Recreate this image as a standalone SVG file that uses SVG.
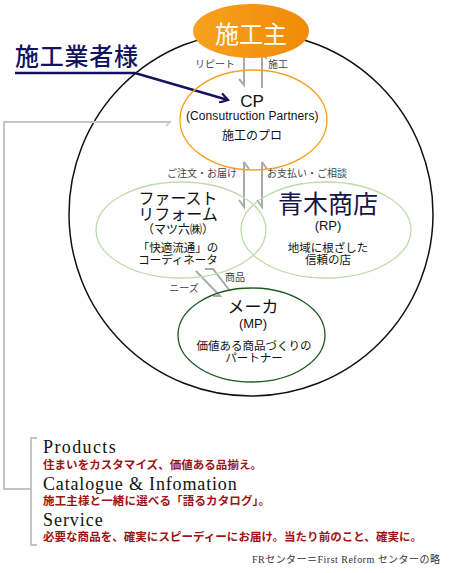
<svg xmlns="http://www.w3.org/2000/svg" width="458" height="573" viewBox="0 0 458 573">
<style>
.jp{font-family:"Noto Sans CJK JP","Liberation Sans",sans-serif;}
.lbl{font-family:"Noto Sans CJK JP","Liberation Sans",sans-serif;font-size:10px;fill:#444;}
.arr{stroke:#aaaaaa;stroke-width:2;fill:none;}
.en{font-family:"Liberation Serif","Noto Sans CJK JP",serif;font-size:18px;fill:#111;letter-spacing:1.3px;}
.red{font-family:"Liberation Serif","Noto Sans CJK JP",serif;font-size:11.5px;font-weight:bold;fill:#9c1414;}
.ls{font-family:"Liberation Sans",sans-serif;}
</style>
<defs>
<linearGradient id="og" x1="0" y1="0" x2="1" y2="0">
<stop offset="0" stop-color="#F7A21E"/><stop offset="1" stop-color="#F08A06"/>
</linearGradient>
<marker id="navyhead" markerWidth="10" markerHeight="10" refX="8" refY="5" orient="auto" markerUnits="userSpaceOnUse">
<path d="M0,0 L8,5 L0,10" fill="none" stroke="#14145e" stroke-width="2.2"/>
</marker>
</defs>
<rect width="458" height="573" fill="#fff"/>

<g id="outer-circle"><ellipse cx="251" cy="214" rx="182" ry="182" fill="none" stroke="#111" stroke-width="1.5"/></g>

<g id="connectors">
<path class="arr" d="M244,50 V85 L239,79"/>
<path class="arr" d="M262,88 V52 L267,59"/>
<path class="arr" d="M244,162 L249,169 M244,162 V207 L239,200"/>
<path class="arr" d="M262,162 L267,169 M262,162 V207 L257,200"/>
<path class="arr" d="M196,271 L220,296 L213,296"/>
<path class="arr" d="M205,269 L213,269 L230,291"/>
<path d="M15,73 H135 L228,100" fill="none" stroke="#14145e" stroke-width="2.5" marker-end="url(#navyhead)"/>
<path d="M170,122 H4 V489 H31" fill="none" stroke="#c4c4c4" stroke-width="2"/>
<path d="M166,126 L171,121" fill="none" stroke="#c4c4c4" stroke-width="1.5"/>
<path d="M37,438 H31 V545 H37" fill="none" stroke="#c4c4c4" stroke-width="2"/>
</g>

<g id="node-sekounushi">
<ellipse cx="251" cy="31" rx="58" ry="27" fill="url(#og)"/>
<text x="251" y="43" class="jp" font-size="24" fill="#fff" text-anchor="middle">施工主</text>
</g>
<text x="215" y="68" class="lbl" text-anchor="middle">リピート</text>
<text x="278" y="68" class="lbl" text-anchor="middle">施工</text>

<g id="node-gyousha">
<text x="15" y="65" class="jp" font-size="24" font-weight="500" fill="#14145e" textLength="123">施工業者様</text>
</g>

<g id="node-cp">
<ellipse cx="253.5" cy="120" rx="73.5" ry="50" fill="none" stroke="#F7A024" stroke-width="1.3"/>
<text text-anchor="middle" fill="#111"><tspan x="252" y="107" class="ls" font-size="17">CP</tspan><tspan x="252" y="120" class="ls" font-size="12" textLength="132" letter-spacing="-0.5">(Consutruction Partners)</tspan><tspan x="252" y="140" class="jp" font-size="12">施工のプロ</tspan></text>
</g>

<text x="202" y="177" class="lbl" text-anchor="middle">ご注文・お届け</text>
<text x="307" y="177" class="lbl" text-anchor="middle">お支払い・ご相談</text>

<g id="node-fr">
<ellipse cx="181" cy="230" rx="85" ry="48" fill="none" stroke="#bcdca8" stroke-width="1.3"/>
<text class="jp" fill="#111" text-anchor="middle"><tspan x="178" y="204" font-size="16">ファースト</tspan><tspan x="178" y="220" font-size="16">リフォーム</tspan><tspan x="178" y="234" font-size="12">（マツ六㈱）</tspan><tspan x="178" y="252" font-size="11.5">「快適流通」の</tspan><tspan x="178" y="264" font-size="11.5">コーディネータ</tspan></text>
</g>

<g id="node-rp">
<ellipse cx="326" cy="230" rx="85" ry="48" fill="none" stroke="#bcdca8" stroke-width="1.3"/>
<text x="328" y="213" class="jp" font-size="25" fill="#14144a" text-anchor="middle">青木商店</text>
<text x="328" y="230" class="ls" font-size="13" fill="#111" text-anchor="middle">(RP)</text>
<text class="jp" font-size="11.5" fill="#111" text-anchor="middle"><tspan x="328" y="252">地域に根ざした</tspan><tspan x="328" y="264">信頼の店</tspan></text>
</g>

<text x="235" y="281" class="lbl" text-anchor="middle">商品</text>
<text x="184" y="292" class="lbl" text-anchor="middle">ニーズ</text>

<g id="node-maker">
<ellipse cx="251.5" cy="335" rx="73.5" ry="47" fill="none" stroke="#1d5a1d" stroke-width="1.3"/>
<text x="253" y="313" class="jp" font-size="17" fill="#111" text-anchor="middle">メーカ</text>
<text x="253" y="328" class="ls" font-size="13" fill="#111" text-anchor="middle">(MP)</text>
<text class="jp" font-size="11.5" fill="#111" text-anchor="middle"><tspan x="254" y="350">価値ある商品づくりの</tspan><tspan x="254" y="362">パートナー</tspan></text>
</g>

<g id="legend">
<text x="43" y="453" class="en" textLength="74">Products</text>
<text x="43" y="469" class="red" textLength="219">住まいをカスタマイズ、価値ある品揃え。</text>
<text x="43" y="490" class="en" textLength="195">Catalogue &amp; Infomation</text>
<text x="43" y="505" class="red" textLength="227">施工主様と一緒に選べる「語るカタログ」。</text>
<text x="43" y="526" class="en" textLength="61">Service</text>
<text x="43" y="541" class="red" textLength="379">必要な商品を、確実にスピーディーにお届け。当たり前のこと、確実に。</text>
<text x="252" y="563" font-family="Liberation Serif,Noto Sans CJK JP,serif" font-size="10" fill="#333" textLength="188">FRセンター＝First Reform センターの略</text>
</g>
</svg>
